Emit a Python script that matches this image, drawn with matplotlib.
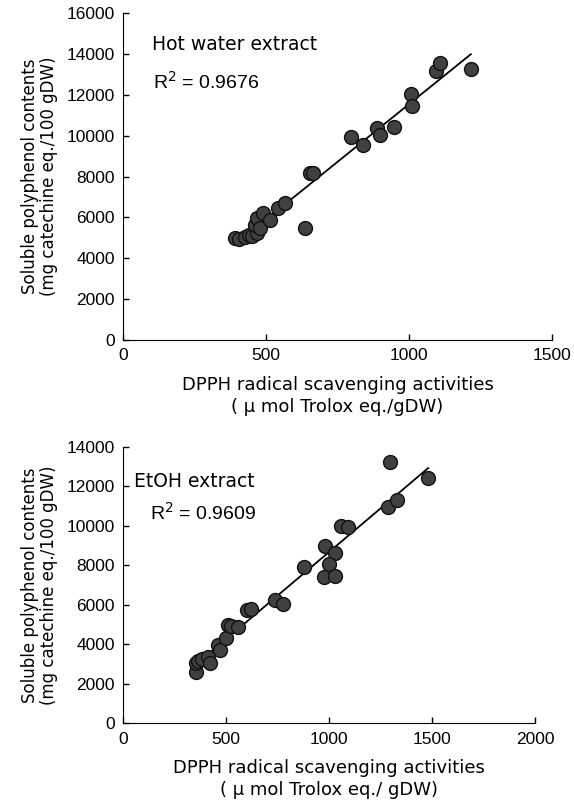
import matplotlib.pyplot as plt
import numpy as np

plt.rcParams['font.family'] = ['Liberation Sans', 'DejaVu Sans']

# Hot water extract (DPPH, polyphenol)
hot_x = [392, 405, 427, 440, 452, 467, 462, 467, 480, 491, 514, 543, 566,
         636, 654, 665, 797, 840, 887, 899, 948, 1007, 1012, 1096, 1108, 1216]
hot_y = [4975, 4950, 5055, 5150, 5100, 5220, 5630, 5950, 5500, 6200, 5870, 6440, 6690,
         5465, 8150, 8150, 9950, 9540, 10360, 10030, 10440, 12020, 11450, 13160, 13540, 13260]
hot_r2 = "0.9676"

# EtOH extract
etoh_x = [353, 353, 365, 380, 413, 421, 461, 469, 499, 510, 525, 558, 599, 618,
          736, 777, 877, 979, 1028, 1000, 974, 1028, 1060, 1092, 1295, 1286, 1330, 1481]
etoh_y = [2610, 3035, 3150, 3240, 3370, 3035, 3960, 3710, 4300, 4975, 4900, 4890, 5730, 5770,
          6240, 6040, 7930, 8970, 8630, 8060, 7420, 7450, 9985, 9950, 13240, 10960, 11300, 12400]
etoh_r2 = "0.9609"

xlabel = "DPPH radical scavenging activities"
ylabel = "Soluble polyphenol contents\n(mg catechine eq./100 gDW)"

fig = plt.figure(figsize=(5.74, 8.05), dpi=100)

def panel(rect, xs, ys, xmax, ymax, unit_line):
    ax = fig.add_axes(rect)
    xs = np.array(xs)
    ys = np.array(ys)
    ax.scatter(xs, ys, s=100, facecolor='#404040', edgecolor='#111111',
               linewidth=1.0, zorder=3)
    # regression line over the data range
    k, b = np.polyfit(xs, ys, 1)
    xx = np.array([xs.min(), xs.max()])
    ax.plot(xx, k * xx + b, color='black', linewidth=1.3, zorder=2)
    ax.set_xlim(0, xmax)
    ax.set_ylim(0, ymax)
    ax.set_xticks(np.arange(0, xmax + 1, 500))
    ax.set_yticks(np.arange(0, ymax + 1, 2000))
    for s in ['top', 'right']:
        ax.spines[s].set_visible(False)
    ax.tick_params(direction='in', length=4, width=1, labelsize=12.5, pad=6)
    ax.set_xlabel(xlabel + "\n" + unit_line, fontsize=13, family='DejaVu Sans',
                  labelpad=9, linespacing=1.3)
    ax.set_ylabel(ylabel, fontsize=12, family='DejaVu Sans', labelpad=6,
                  linespacing=1.1)
    return ax

ax1 = panel([0.2143, 0.5776, 0.7474, 0.4062], hot_x, hot_y, 1500, 16000,
            "( \u03bc mol Trolox eq./gDW)")
ax1.text(0.067, 0.905, "Hot water extract", transform=ax1.transAxes,
         fontsize=13.5, family='DejaVu Sans', va='center')
ax1.text(0.07, 0.79, "R$^2$ = " + hot_r2, transform=ax1.transAxes,
         fontsize=14, va='center')

ax2 = panel([0.2148, 0.1015, 0.7172, 0.3436], etoh_x, etoh_y, 2000, 14000,
            "( \u03bc mol Trolox eq./ gDW)")
ax2.text(0.025, 0.875, "EtOH extract", transform=ax2.transAxes,
         fontsize=13.5, family='DejaVu Sans', va='center')
ax2.text(0.065, 0.76, "R$^2$ = " + etoh_r2, transform=ax2.transAxes,
         fontsize=14, va='center')

fig.savefig("out.png", dpi=100)
